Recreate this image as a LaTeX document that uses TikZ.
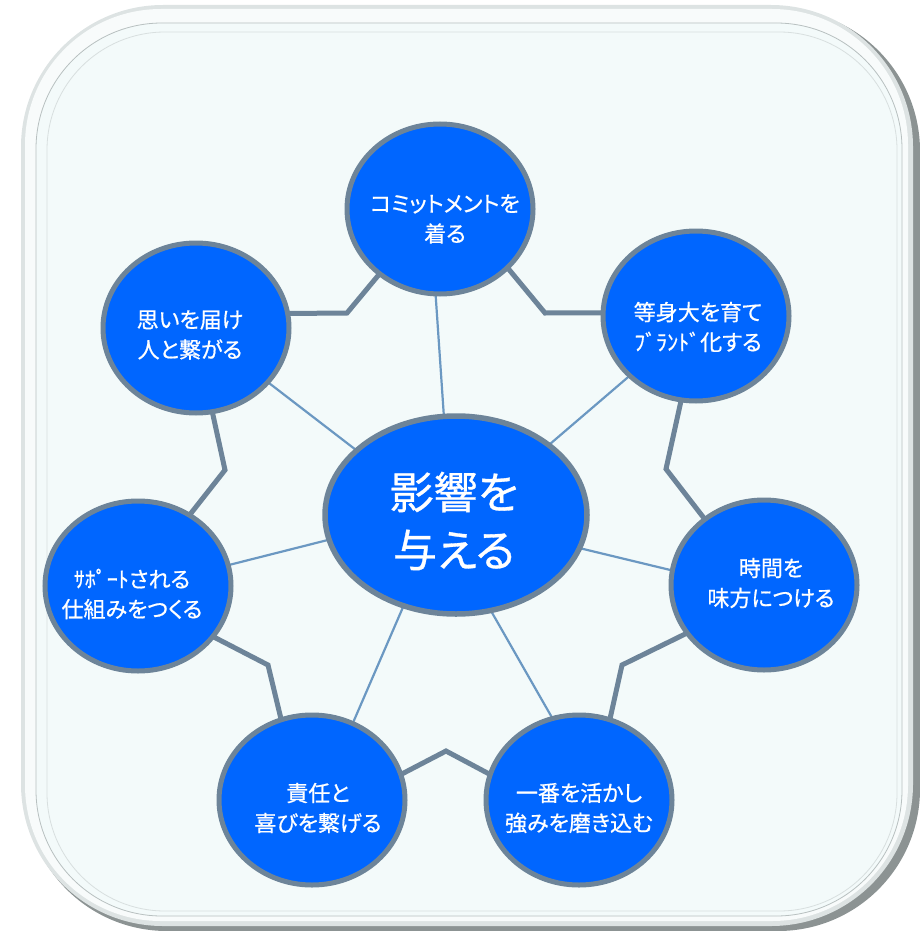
\documentclass[tikz,border=0pt]{standalone}
\usepackage{fontspec}
\newfontfamily\jp[RawFeature=+palt,FakeBold=0.7]{Noto Sans CJK JP}
\usetikzlibrary{shapes.geometric,calc}
\definecolor{nodeblue}{HTML}{0066FF}
\definecolor{rim}{HTML}{6D8499}
\definecolor{spoke}{HTML}{6B98C2}
\definecolor{panel}{HTML}{F3FAFA}
\definecolor{frameshadow}{HTML}{8C9393}
\definecolor{frameouter}{HTML}{DDE3E3}
\definecolor{frameband}{HTML}{F8FBFB}
\definecolor{frameline}{HTML}{B8C0C0}
\definecolor{frameline2}{HTML}{D8DFDF}
\pgfdeclarelayer{framelayer}
\pgfdeclarelayer{linklayer}
\pgfsetlayers{framelayer,linklayer,main}
\begin{document}
\begin{tikzpicture}[x=1pt,y=-1pt,
  bubble/.style={ellipse,draw=rim,line width=5pt,fill=nodeblue,inner sep=0pt,outer sep=0pt,minimum width=186pt,minimum height=170pt},
  hub/.style={ellipse,draw=rim,line width=5.5pt,fill=nodeblue,inner sep=0pt,outer sep=0pt,minimum width=262pt,minimum height=198pt},
  txt/.style={text=white,align=center,font=\jp\fontsize{22}{30}\selectfont,inner sep=0pt},
  bigtxt/.style={text=white,align=center,font=\jp\fontsize{44}{58}\selectfont,inner sep=0pt},
  spokeline/.style={draw=spoke,line width=2.2pt},
  chain/.style={draw=rim,line width=5pt,line join=miter}
]
\useasboundingbox (0,0) rectangle (920,931);

\begin{pgfonlayer}{framelayer}
\fill[frameshadow,rounded corners=142pt] (25,9) rectangle (920,931);
\fill[frameouter,rounded corners=142pt] (21,5) rectangle (913,926);
\fill[frameband,rounded corners=136pt] (25,9) rectangle (908,921);
\draw[frameline,line width=0.8pt,fill=panel,rounded corners=126pt] (36,23) rectangle (902,916);
\draw[frameline2,line width=0.8pt,rounded corners=118pt] (47,32) rectangle (897,911);
\end{pgfonlayer}

% nodes
\node[hub] (C) at (456,515) {};
\node[bubble] (N1) at (440,209) {};
\node[bubble] (N2) at (696,316) {};
\node[bubble] (N3) at (764,585) {};
\node[bubble] (N4) at (579,800) {};
\node[bubble] (N5) at (312,800) {};
\node[bubble] (N6) at (138,586) {};
\node[bubble] (N7) at (196,328) {};

% texts
\node[bigtxt] (TC) at ($(C)+(-2,6)$) {影響を\\与える};
\node[txt] (T1) at ($(N1)+(5,10)$) {コミットメントを\\着る};
\node[txt] (T2) at ($(N2)+(2,11)$) {等身大を育て\\ﾌﾞﾗﾝﾄﾞ化する};
\node[txt] (T3) at ($(N3)+(7,-2)$) {時間を\\味方につける};
\node[txt] (T4) at ($(N4)+(0,8)$) {一番を活かし\\強みを磨き込む};
\node[txt] (T5) at ($(N5)+(6,8)$) {責任と\\喜びを繋げる};
\node[txt] (T6) at ($(N6)+(-6,8)$) {ｻﾎﾟｰﾄされる\\仕組みをつくる};
\node[txt] (T7) at ($(N7)+(-6,7)$) {思いを届け\\人と繋がる};

% bend points
\coordinate (b71) at (347,313);
\coordinate (b76) at (225,470);
\coordinate (b65) at (268,665);
\coordinate (b54) at (446,751);
\coordinate (b43) at (622,665);
\coordinate (b32) at (666,469);
\coordinate (b21) at (545,313);

\begin{pgfonlayer}{linklayer}
\draw[spokeline] (C.97) -- (N1.267);
\draw[spokeline] (C.37) -- (N2.222);
\draw[spokeline] (C.345) -- (N3.171);
\draw[spokeline] (C.290) -- (N4.108);
\draw[spokeline] (C.240) -- (N5.62);
\draw[spokeline] (C.191) -- (N6.13);
\draw[spokeline] (C.147) -- (N7.323);

\draw[chain] (N7.9) -- (b71) -- (N1.227);
\draw[chain] (N7.281) -- (b76) -- (N6.54);
\draw[chain] (N6.326) -- (b65) -- (N5.111);
\draw[chain] (N5.16) -- (b54) -- (N4.164);
\draw[chain] (N4.69) -- (b43) -- (N3.212);
\draw[chain] (N3.132) -- (b32) -- (N2.260);
\draw[chain] (N2.178) -- (b21) -- (N1.319);
\end{pgfonlayer}
\end{tikzpicture}
\end{document}
